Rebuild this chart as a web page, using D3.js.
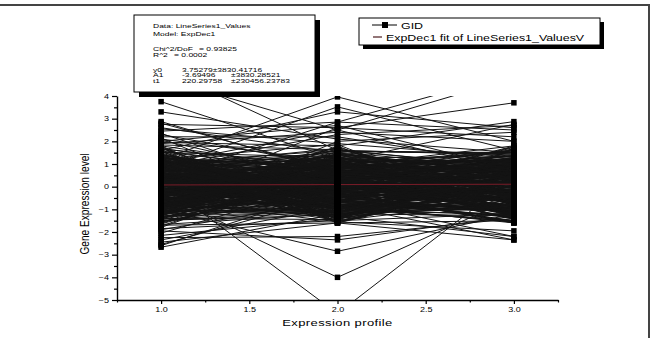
<!DOCTYPE html>
<html>
<head>
<meta charset="utf-8">
<script src="https://cdn.jsdelivr.net/npm/d3@7"></script>
<style>
  body { margin: 0; background: #fff; }
  svg { display: block; font-family: "Liberation Sans", Arial, sans-serif; }
</style>
</head>
<body>
<div class="canvas"></div>
<script>
// expression profiles on the x axis
const profiles = [1, 2, 3];

// gene levels, one array per profile (same gene = same index)
const level1 = [
    3.75, 3.3, 2.87, 2.75, 2.6, 2.45, 2.3, 2.2, 2.1, 2.0, 1.95, 2.35, 2.55, 1.9, 2.05, 5.2, 4.8, 1.2, 0.8, 1.6,
    0.4, 1.0, -0.5, 0.9, -1.2, 0.2, -0.3, -2.67, -2.55, -2.45, -2.35, -2.25, -2.15, -2.05, -1.95, -1.9, -1.85, -2.6, -1.0, -0.6,
    0.5, -1.5, -1.7, 0.3, -1.3, -1.8, 1.8, 1.7, 2.15, 2.8,
    0.12, -0.45, 0.88, -1.12, 0.34, 1.45, -0.78, 0.05, -1.56, 0.67, 1.02, -0.23, -0.91, 0.41, 1.71, -1.34, 0.19, -0.58, 0.93, -0.07,
    1.28, -1.67, 0.55, -0.31, 0.76, -0.99, 1.58, 0.22, -1.21, 0.48, -0.66, 1.15, -0.14, 0.83, -1.43, 0.31, 1.84, -0.52, 0.09, -0.87,
    0.62, -1.05, 1.37, -0.38, 0.17, -1.74, 0.99, -0.21, 0.44, 1.63, -0.95, 0.27, -1.28, 0.71, -0.03, 1.22, -0.69, 0.58, -1.49, 0.36,
    1.09, -0.17, -0.82, 0.53, 1.51, -1.18, 0.02, -0.61, 0.87, -0.36, 1.33, -1.61, 0.46, -0.27, 0.79, -1.03, 1.69, 0.14, -1.25, 0.39,
    -0.73, 1.19, -0.09, 0.91, -1.38, 0.25, 1.77, -0.49, 0.07, -0.84, 0.65, -1.09, 1.41, -0.42, 0.21, -1.52, 1.04, -0.25, 0.51, 1.55,
    -0.97, 0.33, -1.31, 0.73, -0.06, 1.26, -0.64, 0.6, -1.46, 0.29, 1.12, -0.19, -0.88, 0.57, 1.48, -1.15, 0.0, -0.55, 0.84, -0.33,
    1.35, -1.58, 0.43, -0.29, 0.81, -1.01, 1.66, 0.11, -1.23, 0.37, -0.71, 1.17, -0.12, 0.95, -1.4, 0.28, 1.8, -0.47, 0.04, -0.8,
    0.68, -1.07, 1.39, -0.4, 0.24, -1.64, 1.06, -0.26, 0.49, 1.6, -0.93, 0.3, -1.27, 0.74, -0.01, 1.24, -0.67, 0.63, -1.44, 0.32,
    1.1, -0.15, -0.86, 0.59, 1.53, -1.2, 0.08, -0.57, 0.89, -0.35,
    0.21, -0.63, 0.94, -0.18, 0.47, -1.05, 0.72, -0.36, 1.12, -0.81, 0.03, 0.58, -1.27, 0.86, -0.44, 0.29, -0.92, 1.31, -0.12, 0.65,
    -0.55, 0.16, 1.03, -1.16, 0.39, -0.27, 0.77, -0.7, 1.22, -0.05, 0.52, -0.98, 0.35, -0.41, 1.41, -0.6, 0.11, 0.83, -1.34, 0.26,
    -0.19, 0.97, -0.76, 0.44, -1.08, 0.61, -0.31, 1.17, -0.88, 0.07, 0.69, -0.52, 0.24, -1.2, 0.91, -0.09, 0.5, -0.67, 1.26, -0.38,
    0.13, -0.84, 0.79, -0.24, 1.07, -1.01, 0.42, -0.47, 0.66, -0.14, 1.36, -0.73, 0.31, -1.12, 0.55, -0.29, 0.88, -0.58, 0.19, 1.14,
    -0.95, 0.37, -0.16, 0.74, -1.3, 0.08, 0.96, -0.65, 0.28, -0.43, 1.23, -0.87, 0.45, -0.22, 0.63, -1.14, 0.14, 1.01, -0.5, 0.33,
    -0.79, 0.56, -0.07, 1.19, -0.99, 0.4, -0.34, 0.82, -1.22, 0.18, 0.71, -0.46, 1.29, -0.62, 0.06, -0.9, 0.49, -0.2, 1.09, -0.71,
    0.27, -1.38, 0.85, -0.11, 0.6, -0.56, 1.33, -0.83, 0.36, -0.26, 0.92, -1.06, 0.1, 0.67, -0.4, 1.21, -0.74, 0.23, -1.17, 0.54,
    -0.13, 0.8, -0.68, 0.46, -1.24, 0.98, -0.33, 0.15, 1.38, -0.89
];
const level2 = [
    1.2, 2.1, 0.6, 2.6, 1.5, 2.85, 0.9, 2.2, 1.1, 2.7, 1.8, -0.2, 1.9, 2.4, 0.3, 1.6, 2.5, 3.96, 3.52, 3.3,
    2.85, 2.5, 2.6, 2.3, 2.0, -5.6, -4.0, -1.2, -0.4, -1.6, -0.9, -2.2, -1.4, 0.2, -2.35, -0.6, -1.5, -0.1, -2.85, -1.55,
    -1.3, -1.1, -1.6, -1.5, -0.8, 1.0, -1.6, -0.8, -1.1, 0.7,
    -0.34, 0.71, -1.02, 0.18, 1.26, -0.59, 0.92, -1.38, 0.05, 1.57, -0.81, 0.43, -0.12, 1.08, -1.47, 0.29, 0.66, -0.93, 1.41, -0.26,
    0.84, -1.19, 0.11, 1.73, -0.48, 0.37, -1.56, 0.97, -0.07, 0.52, 1.32, -0.72, 0.24, -1.29, 0.79, -0.41, 1.63, 0.02, -0.98, 0.58,
    -0.19, 1.14, -1.11, 0.47, -0.63, 0.88, 1.49, -0.31, 0.16, -1.42, 0.69, -0.85, 1.21, 0.33, -0.54, 1.86, -0.09, 0.61, -1.24, 0.4,
    -0.37, 0.76, -1.06, 0.21, 1.29, -0.62, 0.95, -1.34, 0.08, 1.54, -0.78, 0.46, -0.15, 1.11, -1.5, 0.26, 0.63, -0.9, 1.44, -0.23,
    0.87, -1.16, 0.14, 1.69, -0.45, 0.34, -1.53, 1.0, -0.04, 0.55, 1.35, -0.69, 0.27, -1.26, 0.82, -0.44, 1.6, 0.06, -0.95, 0.6,
    -0.21, 1.17, -1.08, 0.5, -0.6, 0.91, 1.46, -0.28, 0.19, -1.39, 0.72, -0.83, 1.24, 0.3, -0.51, 1.79, -0.11, 0.64, -1.21, 0.42,
    -0.32, 0.74, -1.0, 0.23, 1.23, -0.56, 0.9, -1.36, 0.03, 1.59, -0.76, 0.49, -0.17, 1.05, -1.45, 0.31, 0.68, -0.88, 1.38, -0.24,
    0.8, -1.13, 0.13, 1.66, -0.5, 0.39, -1.59, 0.94, -0.02, 0.53, 1.3, -0.74, 0.2, -1.31, 0.77, -0.39, 1.52, 0.0, -1.03, 0.56,
    -0.18, 1.12, -1.14, 0.45, -0.65, 0.86, 1.43, -0.3, 0.12, -1.48,
    -0.48, 0.33, -0.91, 0.62, -0.15, 1.08, -0.69, 0.27, -1.21, 0.84, 0.41, -0.36, 0.96, -0.57, 0.12, -1.03, 0.71, -0.24, 1.27, -0.81,
    0.19, -0.64, 1.15, -0.08, 0.53, -1.29, 0.38, -0.45, 0.89, -0.99, 0.25, 1.34, -0.73, 0.06, -0.52, 0.78, -1.12, 0.46, -0.2, 1.02,
    -0.87, 0.3, 0.68, -1.36, 0.15, -0.31, 1.21, -0.6, 0.49, -0.95, 0.87, -0.12, 0.36, -1.07, 0.59, -0.42, 1.11, -0.77, 0.21, -0.28,
    1.42, -0.66, 0.09, -1.18, 0.74, -0.5, 0.44, -0.89, 1.05, -0.04, 0.57, -1.32, 0.17, -0.39, 0.93, -0.71, 1.24, -0.17, 0.35, -1.0,
    0.65, -0.55, 0.02, 1.16, -0.84, 0.4, -0.26, 0.8, -1.15, 0.28, -0.62, 0.99, -0.1, 0.52, -1.25, 0.7, -0.35, 1.3, -0.79, 0.14,
    0.47, -0.93, 0.23, -0.47, 1.07, -1.09, 0.61, -0.14, 0.85, -0.68, 0.32, 1.19, -0.58, 0.05, -1.2, 0.76, -0.33, 0.55, -0.97, 1.37,
    -0.22, 0.43, -0.75, 0.92, -1.4, 0.18, -0.46, 1.13, -0.63, 0.37, 0.72, -1.04, 0.26, -0.3, 1.0, -0.86, 0.5, -0.06, 1.25, -0.53,
    0.11, -1.13, 0.64, -0.37, 0.83, -0.72, 0.34, 1.09, -0.96, 0.2
];
const level3 = [
    0.9, 1.5, 1.1, 2.2, 0.4, 2.5, 1.8, 1.0, 2.75, 0.8, 2.87, 0.6, 1.3, 2.0, -0.4, 1.4, 0.7, 2.0, 1.6, 2.6,
    5.0, 4.8, 3.7, 2.7, 2.4, 0.4, -0.5, -0.8, -1.5, -2.35, 0.2, -1.4, -0.3, -1.1, -1.3, -2.2, -0.6, -1.6, -1.2, -1.95,
    -2.2, 0.3, -1.5, -1.2, -2.35, 0.5, 0.2, -1.6, 0.9, -0.2,
    0.58, -0.21, 1.13, -0.87, 0.3, -1.35, 0.79, 0.04, -0.62, 1.48, -1.08, 0.41, 0.95, -0.36, 1.67, -0.71, 0.17, -1.52, 0.62, -0.13,
    1.21, -0.94, 0.49, -0.28, 1.04, -1.21, 0.26, 1.55, -0.55, 0.09, -0.8, 0.72, -1.41, 0.35, 1.38, -0.17, 0.86, -1.02, 0.52, -0.43,
    1.76, -0.66, 0.21, -1.28, 0.98, -0.05, 0.61, -1.57, 1.26, -0.32, 0.45, -0.89, 1.09, -0.24, 0.7, -1.15, 0.33, 1.61, -0.48, 0.14,
    0.54, -0.25, 1.16, -0.84, 0.27, -1.32, 0.82, 0.01, -0.59, 1.51, -1.05, 0.38, 0.92, -0.39, 1.7, -0.68, 0.2, -1.49, 0.65, -0.1,
    1.18, -0.97, 0.46, -0.3, 1.01, -1.24, 0.23, 1.58, -0.52, 0.06, -0.77, 0.69, -1.44, 0.32, 1.35, -0.2, 0.89, -0.99, 0.55, -0.46,
    1.73, -0.63, 0.18, -1.25, 1.0, -0.08, 0.58, -1.54, 1.29, -0.35, 0.48, -0.86, 1.06, -0.27, 0.67, -1.18, 0.36, 1.64, -0.45, 0.11,
    0.6, -0.18, 1.1, -0.9, 0.33, -1.38, 0.76, 0.07, -0.65, 1.45, -1.11, 0.44, 0.98, -0.33, 1.64, -0.74, 0.14, -1.55, 0.59, -0.16,
    1.24, -0.91, 0.52, -0.25, 1.07, -1.18, 0.29, 1.52, -0.58, 0.12, -0.83, 0.75, -1.38, 0.38, 1.41, -0.14, 0.83, -1.05, 0.49, -0.4,
    1.79, -0.69, 0.24, -1.31, 0.95, -0.02, 0.64, -1.6, 1.23, -0.29,
    0.36, -0.74, 0.12, 0.91, -0.46, 1.19, -1.03, 0.54, -0.21, 0.77, -0.89, 0.27, 1.06, -0.6, 0.43, -1.24, 0.68, -0.11, 1.32, -0.53,
    0.08, -0.95, 0.59, -0.34, 1.14, -0.7, 0.21, -1.16, 0.85, -0.02, 0.47, -0.81, 1.25, -0.28, 0.65, -1.31, 0.16, 0.96, -0.49, 0.31,
    -1.08, 0.73, -0.17, 1.04, -0.63, 0.4, -0.92, 0.24, 1.37, -0.4, 0.57, -0.13, 0.88, -1.19, 0.34, -0.57, 1.1, -0.78, 0.05, 0.69,
    -0.31, 1.22, -0.99, 0.45, -0.22, 0.82, -1.27, 0.19, -0.66, 0.98, -0.07, 0.61, -1.11, 0.39, 1.16, -0.86, 0.26, -0.44, 0.74, -0.15,
    1.28, -0.59, 0.1, -1.02, 0.52, -0.37, 0.93, -0.76, 0.3, 1.07, -0.5, 0.18, -1.21, 0.66, -0.26, 1.34, -0.83, 0.42, -0.09, 0.81,
    -0.69, 0.33, 1.12, -1.06, 0.56, -0.35, 0.71, -0.94, 0.14, 1.2, -0.42, 0.87, -0.19, 0.48, -1.28, 0.63, -0.54, 1.01, -0.12, 0.38,
    -0.85, 0.22, 1.3, -0.65, 0.5, -1.14, 0.79, -0.29, 0.02, 0.95, -1.0, 0.44, -0.38, 1.17, -0.72, 0.28, -0.06, 0.86, -1.23, 0.58,
    0.17, -0.47, 1.04, -0.8, 0.35, -0.18, 0.75, -1.09, 0.62, -0.24
];

// ExpDec1 fit evaluated at the three profiles
const fitLevels = [0.075, 0.091, 0.108];

const xTicks = [1.0, 1.5, 2.0, 2.5, 3.0];
const xMinorTicks = [0.75, 1.25, 1.75, 2.25, 2.75, 3.25];
const yTicks = [-5, -4, -3, -2, -1, 0, 1, 2, 3, 4];
const yMinorTicks = [-4.5, -3.5, -2.5, -1.5, -0.5, 0.5, 1.5, 2.5, 3.5];

const boxHeader = ["Data: LineSeries1_Values", "Model: ExpDec1"];
const boxStats = [["Chi^2/DoF", "= 0.93825"], ["R^2", "= 0.0002"]];
const boxParams = [["y0", "3.75279\u00b13830.41716", ""], ["A1", "-3.69496", "\u00b13830.28521"], ["t1", "220.29758", "\u00b1230456.23783"]];
const legendItems = ["GID", "ExpDec1 fit of LineSeries1_ValuesV"];

const FONT = "'Liberation Sans', Arial, sans-serif";
const SQUASH = 0.75;

class ProfileChart {
    constructor(svg) {
        this.svg = svg;
        this.plot = {left: 117, right: 558, top: 96, bottom: 300};
        this.x = d3.scaleLinear().domain([0.75, 3.25]).range([this.plot.left, this.plot.right]);
        this.y = d3.scaleLinear().domain([-5, 4]).range([this.plot.bottom, this.plot.top]);
        this.genes = d3.range(level1.length).map(i => [level1[i], level2[i], level3[i]]);

        this.addClip();
        this.addLines();
        this.addFit();
        this.addMarkers();
        this.addXAxis();
        this.addYAxis();
        this.addInfoBox();
        this.addLegend();
        this.addFrame();
    }

    squashed(sel, px, py, sy = SQUASH) {
        return sel.attr("transform", `translate(${px},${py}) scale(1,${sy})`);
    }

    addClip() {
        this.svg.append("clipPath").attr("id", "plotClip")
            .append("rect")
            .attr("x", this.plot.left)
            .attr("y", this.plot.top)
            .attr("width", this.plot.right - this.plot.left)
            .attr("height", this.plot.bottom - this.plot.top);
    }

    addLines() {
        const line = d3.line()
            .x((d, i) => this.x(profiles[i]))
            .y(d => this.y(d));
        this.svg.append("g")
            .attr("clip-path", "url(#plotClip)")
            .selectAll("path")
            .data(this.genes)
            .enter()
            .append("path")
            .attr("d", line)
            .attr("fill", "none")
            .attr("stroke", "#141414")
            .attr("stroke-width", 1);
    }

    addFit() {
        const line = d3.line()
            .x((d, i) => this.x(profiles[i]))
            .y(d => this.y(d));
        this.svg.append("path")
            .attr("d", line(fitLevels))
            .attr("fill", "none")
            .attr("stroke", "#7a1c28")
            .attr("stroke-width", 1);
    }

    addMarkers() {
        const pts = [];
        this.genes.forEach(g => g.forEach((v, i) => pts.push({p: profiles[i], v: v})));
        const s = 5.5;
        this.svg.append("g")
            .attr("clip-path", "url(#plotClip)")
            .selectAll("rect")
            .data(pts)
            .enter()
            .append("rect")
            .attr("x", d => this.x(d.p) - s / 2)
            .attr("y", d => this.y(d.v) - s / 2)
            .attr("width", s)
            .attr("height", s)
            .attr("fill", "#000");
    }

    styleAxis(g) {
        g.attr("font-family", FONT).attr("font-size", 9);
        g.selectAll(".domain").attr("stroke-width", 1.4);
        g.selectAll(".tick line").attr("stroke-width", 1.2);
    }

    addXAxis() {
        const gx = this.svg.append("g")
            .attr("transform", `translate(0, ${this.plot.bottom})`)
            .call(d3.axisBottom(this.x).tickValues(xTicks).tickSize(4).tickSizeOuter(0)
                .tickFormat(d3.format(".1f")));
        this.styleAxis(gx);
        gx.selectAll(".tick text")
            .attr("y", null).attr("dy", null)
            .attr("transform", `translate(0,12) scale(1,${SQUASH})`);

        const gm = this.svg.append("g")
            .attr("transform", `translate(0, ${this.plot.bottom})`)
            .call(d3.axisBottom(this.x).tickValues(xMinorTicks).tickSize(2.5).tickFormat(""));
        gm.select(".domain").remove();
        gm.selectAll(".tick line").attr("stroke-width", 1.2);

        this.squashed(this.svg.append("text"), (this.x(1) + this.x(3)) / 2, 326)
            .attr("text-anchor", "middle")
            .attr("font-family", FONT)
            .attr("font-size", 13)
            .attr("letter-spacing", 0.4)
            .text("Expression profile");
    }

    addYAxis() {
        const gy = this.svg.append("g")
            .attr("transform", `translate(${this.plot.left}, 0)`)
            .call(d3.axisLeft(this.y).tickValues(yTicks).tickSize(5).tickSizeOuter(0)
                .tickFormat(d3.format("d")));
        this.styleAxis(gy);
        gy.selectAll(".tick text").attr("transform", `scale(1,${SQUASH})`);

        const gm = this.svg.append("g")
            .attr("transform", `translate(${this.plot.left}, 0)`)
            .call(d3.axisLeft(this.y).tickValues(yMinorTicks).tickSize(3).tickFormat(""));
        gm.select(".domain").remove();
        gm.selectAll(".tick line").attr("stroke-width", 1.2);

        // text label for the y axis
        this.svg.append("text")
            .attr("transform", `translate(89, 204) rotate(-90) scale(${SQUASH},1)`)
            .attr("text-anchor", "middle")
            .attr("font-family", FONT)
            .attr("font-size", 13.5)
            .text("Gene Expression level");
    }

    addInfoBox() {
        const box = {x: 134, y: 15, w: 181, h: 77};
        const sy = 0.6;
        const g = this.svg.append("g").attr("font-family", FONT).attr("font-size", 8.5);
        g.append("rect").attr("x", box.x + 5).attr("y", box.y + 5).attr("width", box.w).attr("height", box.h).attr("fill", "#000");
        g.append("rect").attr("x", box.x).attr("y", box.y).attr("width", box.w).attr("height", box.h)
            .attr("fill", "#fff").attr("stroke", "#000").attr("stroke-width", 1);

        const left = 153;
        boxHeader.forEach((t, i) => this.squashed(g.append("text"), left, 28 + i * 8, sy).text(t));
        boxStats.forEach((r, i) => {
            this.squashed(g.append("text"), left, 51 + i * 5.6, sy).text(r[0]);
            this.squashed(g.append("text"), i === 0 ? 199 : 174, 51 + i * 5.6, sy).text(r[1]);
        });
        boxParams.forEach((r, i) => {
            this.squashed(g.append("text"), left, 72 + i * 5.4, sy).text(r[0]);
            this.squashed(g.append("text"), 182, 72 + i * 5.4, sy).text(r[1]);
            this.squashed(g.append("text"), 231, 72 + i * 5.4, sy).text(r[2]);
        });
    }

    addLegend() {
        const box = {x: 359, y: 18, w: 241, h: 27};
        const g = this.svg.append("g").attr("font-family", FONT).attr("font-size", 12.4);
        g.append("rect").attr("x", box.x + 4).attr("y", box.y + 4).attr("width", box.w).attr("height", box.h).attr("fill", "#000");
        g.append("rect").attr("x", box.x).attr("y", box.y).attr("width", box.w).attr("height", box.h)
            .attr("fill", "#fff").attr("stroke", "#000").attr("stroke-width", 1);

        g.append("line").attr("x1", 372).attr("x2", 397).attr("y1", 25).attr("y2", 25).attr("stroke", "#000").attr("stroke-width", 1);
        g.append("rect").attr("x", 382).attr("y", 22).attr("width", 6).attr("height", 6).attr("fill", "#000");
        this.squashed(g.append("text"), 401, 29, 0.8).text(legendItems[0]);

        g.append("line").attr("x1", 373).attr("x2", 382).attr("y1", 37).attr("y2", 37).attr("stroke", "#4a1a1e").attr("stroke-width", 1.2);
        this.squashed(g.append("text"), 386, 41, 0.8).text(legendItems[1]);
    }

    addFrame() {
        this.svg.append("line").attr("x1", 0).attr("x2", 650).attr("y1", 5).attr("y2", 5)
            .attr("stroke", "#444").attr("stroke-width", 2);
        this.svg.append("line").attr("x1", 649).attr("x2", 649).attr("y1", 5).attr("y2", 338)
            .attr("stroke", "#444").attr("stroke-width", 2);
    }
}

const svg = d3.select(".canvas").append("svg").attr("width", 651).attr("height", 338);
new ProfileChart(svg);
</script>
</body>
</html>
